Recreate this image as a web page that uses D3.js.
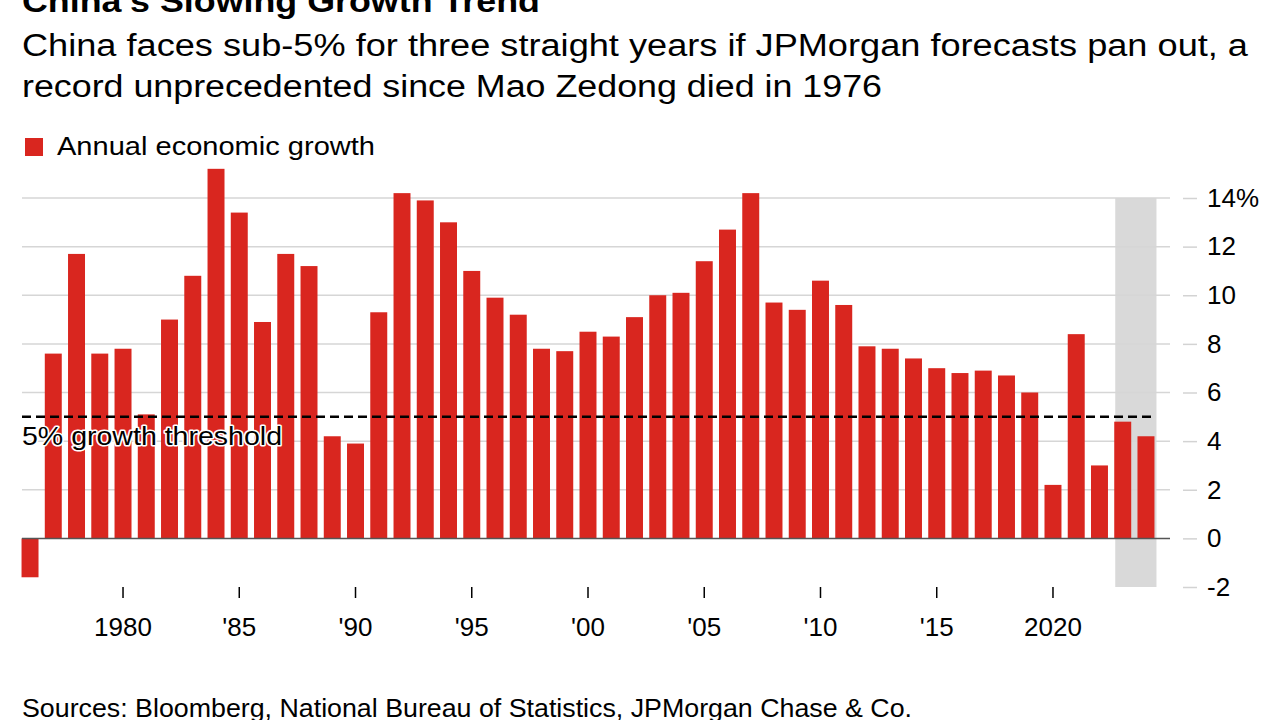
<!DOCTYPE html>
<html><head><meta charset="utf-8">
<script src="https://cdn.jsdelivr.net/npm/d3@7"></script>
<style>body{margin:0;background:#fff}svg{display:block;font-family:"Liberation Sans",Arial,sans-serif}</style>
</head><body><svg id="c" width="1280" height="720"></svg>
<script>
const years = d3.range(1976, 2025);
const growth = [-1.6,7.6,11.7,7.6,7.8,5.1,9.0,10.8,15.2,13.4,8.9,11.7,11.2,4.2,3.9,9.3,14.2,13.9,13.0,11.0,9.9,9.2,7.8,7.7,8.5,8.3,9.1,10.0,10.1,11.4,12.7,14.2,9.7,9.4,10.6,9.6,7.9,7.8,7.4,7.0,6.8,6.9,6.7,6.0,2.2,8.4,3.0,4.8,4.2];
const yTicks = [-2,0,2,4,6,8,10,12,14];
const yTickLabels = ["-2","0","2","4","6","8","10","12","14%"];
const xTickYears = [1980,1985,1990,1995,2000,2005,2010,2015,2020];
const xTickLabels = ["1980","'85","'90","'95","'00","'05","'10","'15","2020"];
const forecastYears = [2023,2024];
const threshold = 5;

const svg = d3.select("#c");
const x = d3.scaleBand().domain(years).range([18.4, 1157.6]).paddingInner(0.27).paddingOuter(0.135);
const y = d3.scaleLinear().domain([-2,14]).range([587,198]);
const data = years.map((yr,i)=>({yr, v: growth[i]}));

function txt(xp, yp, size, str, width, bold){
  const t = svg.append("text").attr("x",xp).attr("y",yp).attr("font-size",size).attr("fill","#000").text(str);
  if (bold) t.attr("font-weight","bold");
  if (width) t.attr("textLength",width).attr("lengthAdjust","spacingAndGlyphs");
  return t;
}

// title & subtitle
txt(22, 12, 32, "China's Slowing Growth Trend", 518, true);
txt(22, 56, 31, "China faces sub-5% for three straight years if JPMorgan forecasts pan out, a", 1226);
txt(22, 97, 31, "record unprecedented since Mao Zedong died in 1976", 860);

// legend
svg.append("rect").attr("x",25).attr("y",138).attr("width",18).attr("height",18).attr("fill","#d9261f");
txt(57, 155, 25, "Annual economic growth", 318);

// forecast shading
const fx0 = x(forecastYears[0]) + 1, fx1 = x(forecastYears[1]) + x.bandwidth() + 2;
svg.append("rect").attr("x",fx0).attr("y",y(14)).attr("width",fx1-fx0).attr("height",y(-2)-y(14)).attr("fill","#d9d9d9");

// gridlines
svg.append("g").selectAll("line").data(yTicks.filter(t=>t!==0 && t!==-2)).join("line")
  .attr("x1",22).attr("x2",1170).attr("y1",d=>y(d)).attr("y2",d=>y(d))
  .attr("stroke","#d6d6d6").attr("stroke-width",1.5);

// y axis (right)
const ya = svg.append("g").attr("transform","translate(1183,0)")
  .call(d3.axisRight(y).tickValues(yTicks).tickSize(14).tickPadding(10).tickFormat((d,i)=>yTickLabels[i]));
ya.select(".domain").remove();
ya.selectAll(".tick line").attr("stroke","#d3d3d3").attr("stroke-width",1.5);
ya.selectAll(".tick text").attr("font-size",26).attr("fill","#000").attr("font-family","Liberation Sans, Arial, sans-serif");

// bars
svg.append("g").selectAll("rect").data(data).join("rect")
  .attr("x",d=>x(d.yr)).attr("width",x.bandwidth())
  .attr("y",d=>y(Math.max(0,d.v))).attr("height",d=>Math.abs(y(d.v)-y(0)))
  .attr("fill","#d9261f");

// zero line
svg.append("line").attr("x1",22).attr("x2",1170).attr("y1",y(0)).attr("y2",y(0)).attr("stroke","#555").attr("stroke-width",1.5);

// threshold
svg.append("line").attr("x1",22).attr("x2",1152).attr("y1",y(threshold)).attr("y2",y(threshold))
  .attr("stroke","#000").attr("stroke-width",2.4).attr("stroke-dasharray","9,5");
txt(22, 445, 25, "5% growth threshold", 260)
  .attr("stroke","#fff").attr("stroke-width",3).attr("paint-order","stroke").attr("stroke-linejoin","round");

// x axis
const xa = svg.append("g").attr("transform","translate(0,587)")
  .call(d3.axisBottom(x).tickValues(xTickYears).tickSize(11).tickPadding(20).tickFormat((d,i)=>xTickLabels[i]));
xa.select(".domain").remove();
xa.selectAll(".tick line").attr("stroke","#000").attr("stroke-width",1.5);
xa.selectAll(".tick text").attr("font-size",26).attr("fill","#000").attr("font-family","Liberation Sans, Arial, sans-serif");

// source
txt(22, 717, 25, "Sources: Bloomberg, National Bureau of Statistics, JPMorgan Chase & Co.", 890);
</script></body></html>
